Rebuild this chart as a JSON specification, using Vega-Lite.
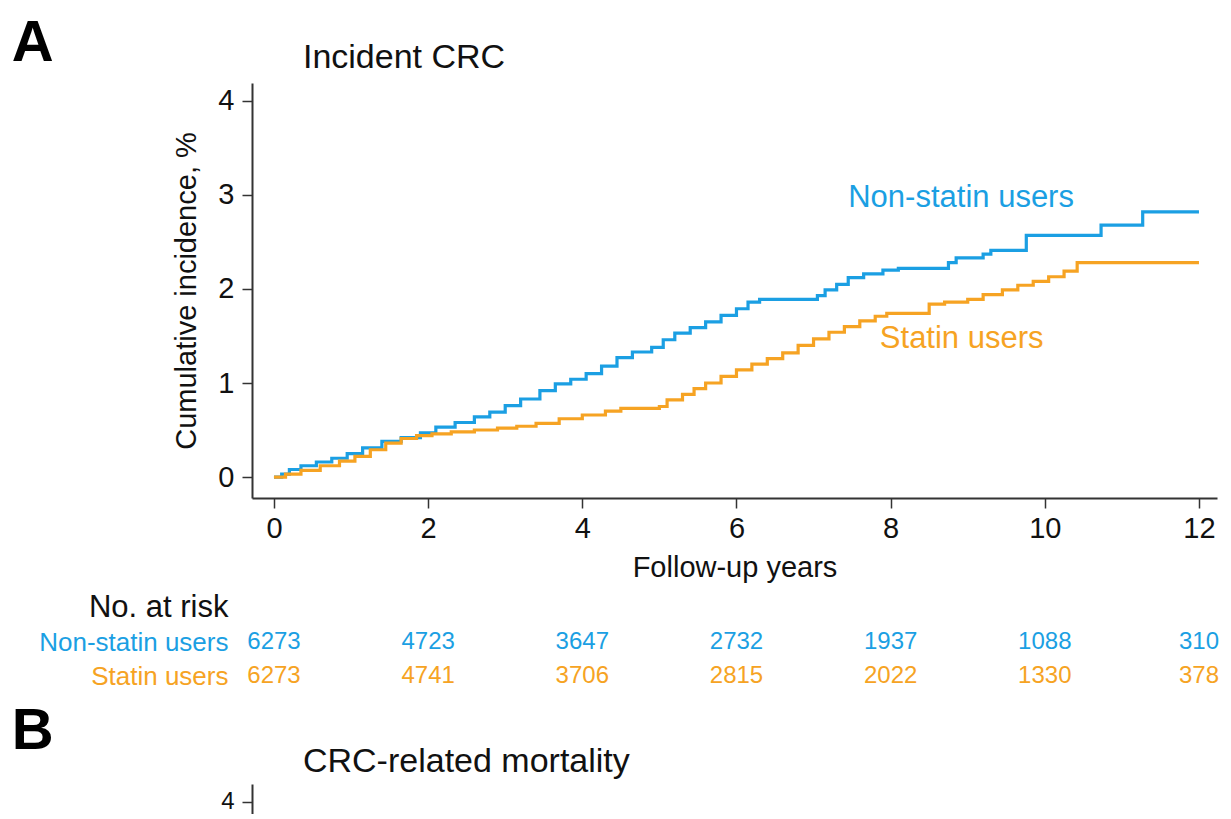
{
  "$schema": "https://vega.github.io/schema/vega-lite/v6.json",
  "background": "white",
  "padding": {"left": 11, "top": 14, "right": 0, "bottom": 0},
  "config": {
    "font": "Liberation Sans",
    "view": {"stroke": null},
    "axis": {"grid": false, "domainColor": "#333333", "domainWidth": 2, "tickColor": "#333333", "tickWidth": 1.5, "tickSize": 10, "labelColor": "#111111", "titleColor": "#111111", "labelFont": "Liberation Sans", "titleFont": "Liberation Sans", "titleFontWeight": "normal", "labelLimit": 400}
  },
  "resolve": {"scale": {"x": "independent", "y": "independent", "color": "independent"}},
  "spacing": 0,
  "datasets": {
    "km": [
      {"group": "Non-statin users", "year": 0, "cuminc": 0},
      {"group": "Non-statin users", "year": 0.1, "cuminc": 0.03},
      {"group": "Non-statin users", "year": 0.2, "cuminc": 0.08},
      {"group": "Non-statin users", "year": 0.35, "cuminc": 0.12},
      {"group": "Non-statin users", "year": 0.55, "cuminc": 0.16},
      {"group": "Non-statin users", "year": 0.75, "cuminc": 0.2},
      {"group": "Non-statin users", "year": 0.95, "cuminc": 0.25},
      {"group": "Non-statin users", "year": 1.15, "cuminc": 0.31},
      {"group": "Non-statin users", "year": 1.4, "cuminc": 0.38},
      {"group": "Non-statin users", "year": 1.65, "cuminc": 0.42},
      {"group": "Non-statin users", "year": 1.9, "cuminc": 0.47},
      {"group": "Non-statin users", "year": 2.1, "cuminc": 0.53},
      {"group": "Non-statin users", "year": 2.35, "cuminc": 0.58},
      {"group": "Non-statin users", "year": 2.6, "cuminc": 0.64},
      {"group": "Non-statin users", "year": 2.8, "cuminc": 0.69},
      {"group": "Non-statin users", "year": 3.0, "cuminc": 0.76},
      {"group": "Non-statin users", "year": 3.2, "cuminc": 0.83},
      {"group": "Non-statin users", "year": 3.45, "cuminc": 0.92},
      {"group": "Non-statin users", "year": 3.65, "cuminc": 0.99},
      {"group": "Non-statin users", "year": 3.85, "cuminc": 1.04},
      {"group": "Non-statin users", "year": 4.05, "cuminc": 1.1},
      {"group": "Non-statin users", "year": 4.25, "cuminc": 1.18},
      {"group": "Non-statin users", "year": 4.45, "cuminc": 1.27},
      {"group": "Non-statin users", "year": 4.65, "cuminc": 1.33},
      {"group": "Non-statin users", "year": 4.9, "cuminc": 1.38},
      {"group": "Non-statin users", "year": 5.05, "cuminc": 1.46},
      {"group": "Non-statin users", "year": 5.2, "cuminc": 1.53},
      {"group": "Non-statin users", "year": 5.4, "cuminc": 1.59},
      {"group": "Non-statin users", "year": 5.6, "cuminc": 1.65},
      {"group": "Non-statin users", "year": 5.8, "cuminc": 1.72},
      {"group": "Non-statin users", "year": 6.0, "cuminc": 1.79},
      {"group": "Non-statin users", "year": 6.15, "cuminc": 1.86},
      {"group": "Non-statin users", "year": 6.3, "cuminc": 1.89},
      {"group": "Non-statin users", "year": 7.05, "cuminc": 1.93},
      {"group": "Non-statin users", "year": 7.15, "cuminc": 1.99},
      {"group": "Non-statin users", "year": 7.3, "cuminc": 2.05},
      {"group": "Non-statin users", "year": 7.45, "cuminc": 2.12},
      {"group": "Non-statin users", "year": 7.65, "cuminc": 2.16},
      {"group": "Non-statin users", "year": 7.9, "cuminc": 2.2},
      {"group": "Non-statin users", "year": 8.1, "cuminc": 2.22},
      {"group": "Non-statin users", "year": 8.75, "cuminc": 2.28},
      {"group": "Non-statin users", "year": 8.85, "cuminc": 2.33},
      {"group": "Non-statin users", "year": 9.2, "cuminc": 2.37},
      {"group": "Non-statin users", "year": 9.3, "cuminc": 2.41},
      {"group": "Non-statin users", "year": 9.76, "cuminc": 2.57},
      {"group": "Non-statin users", "year": 10.73, "cuminc": 2.68},
      {"group": "Non-statin users", "year": 11.27, "cuminc": 2.82},
      {"group": "Non-statin users", "year": 12.0, "cuminc": 2.82},
      {"group": "Statin users", "year": 0, "cuminc": 0},
      {"group": "Statin users", "year": 0.15, "cuminc": 0.03},
      {"group": "Statin users", "year": 0.35, "cuminc": 0.07},
      {"group": "Statin users", "year": 0.6, "cuminc": 0.12},
      {"group": "Statin users", "year": 0.85, "cuminc": 0.17},
      {"group": "Statin users", "year": 1.05, "cuminc": 0.22},
      {"group": "Statin users", "year": 1.25, "cuminc": 0.29},
      {"group": "Statin users", "year": 1.45, "cuminc": 0.36},
      {"group": "Statin users", "year": 1.65, "cuminc": 0.41},
      {"group": "Statin users", "year": 1.85, "cuminc": 0.44},
      {"group": "Statin users", "year": 2.05, "cuminc": 0.46},
      {"group": "Statin users", "year": 2.3, "cuminc": 0.48},
      {"group": "Statin users", "year": 2.6, "cuminc": 0.5},
      {"group": "Statin users", "year": 2.9, "cuminc": 0.52},
      {"group": "Statin users", "year": 3.15, "cuminc": 0.54},
      {"group": "Statin users", "year": 3.4, "cuminc": 0.57},
      {"group": "Statin users", "year": 3.7, "cuminc": 0.62},
      {"group": "Statin users", "year": 4.0, "cuminc": 0.66},
      {"group": "Statin users", "year": 4.3, "cuminc": 0.7},
      {"group": "Statin users", "year": 4.5, "cuminc": 0.73},
      {"group": "Statin users", "year": 5.0, "cuminc": 0.75},
      {"group": "Statin users", "year": 5.1, "cuminc": 0.82},
      {"group": "Statin users", "year": 5.3, "cuminc": 0.88},
      {"group": "Statin users", "year": 5.45, "cuminc": 0.94},
      {"group": "Statin users", "year": 5.6, "cuminc": 1.0},
      {"group": "Statin users", "year": 5.8, "cuminc": 1.07},
      {"group": "Statin users", "year": 6.0, "cuminc": 1.14},
      {"group": "Statin users", "year": 6.2, "cuminc": 1.2},
      {"group": "Statin users", "year": 6.4, "cuminc": 1.26},
      {"group": "Statin users", "year": 6.6, "cuminc": 1.32},
      {"group": "Statin users", "year": 6.8, "cuminc": 1.4},
      {"group": "Statin users", "year": 7.0, "cuminc": 1.47},
      {"group": "Statin users", "year": 7.2, "cuminc": 1.54},
      {"group": "Statin users", "year": 7.4, "cuminc": 1.6},
      {"group": "Statin users", "year": 7.6, "cuminc": 1.66},
      {"group": "Statin users", "year": 7.8, "cuminc": 1.71},
      {"group": "Statin users", "year": 7.95, "cuminc": 1.74},
      {"group": "Statin users", "year": 8.5, "cuminc": 1.84},
      {"group": "Statin users", "year": 8.7, "cuminc": 1.86},
      {"group": "Statin users", "year": 9.0, "cuminc": 1.89},
      {"group": "Statin users", "year": 9.2, "cuminc": 1.94},
      {"group": "Statin users", "year": 9.45, "cuminc": 1.99},
      {"group": "Statin users", "year": 9.65, "cuminc": 2.04},
      {"group": "Statin users", "year": 9.85, "cuminc": 2.08},
      {"group": "Statin users", "year": 10.05, "cuminc": 2.13},
      {"group": "Statin users", "year": 10.25, "cuminc": 2.19},
      {"group": "Statin users", "year": 10.42, "cuminc": 2.28},
      {"group": "Statin users", "year": 12.0, "cuminc": 2.28}
    ],
    "atrisk": [
      {"group": "Non-statin users", "year": 0, "n": "6273"},
      {"group": "Non-statin users", "year": 2, "n": "4723"},
      {"group": "Non-statin users", "year": 4, "n": "3647"},
      {"group": "Non-statin users", "year": 6, "n": "2732"},
      {"group": "Non-statin users", "year": 8, "n": "1937"},
      {"group": "Non-statin users", "year": 10, "n": "1088"},
      {"group": "Non-statin users", "year": 12, "n": "310"},
      {"group": "Statin users", "year": 0, "n": "6273"},
      {"group": "Statin users", "year": 2, "n": "4741"},
      {"group": "Statin users", "year": 4, "n": "3706"},
      {"group": "Statin users", "year": 6, "n": "2815"},
      {"group": "Statin users", "year": 8, "n": "2022"},
      {"group": "Statin users", "year": 10, "n": "1330"},
      {"group": "Statin users", "year": 12, "n": "378"}
    ],
    "one": [{}]
  },
  "vconcat": [
    {
      "width": 965,
      "height": 415,
      "layer": [
        {
          "data": {"name": "km"},
          "mark": {"type": "line", "interpolate": "step-after", "strokeWidth": 3.2},
          "encoding": {
            "x": {"field": "year", "type": "quantitative", "scale": {"domain": [-0.285, 12.234], "nice": false, "zero": false}, "axis": {"values": [0, 2, 4, 6, 8, 10, 12], "format": "d", "title": "Follow-up years", "labelFontSize": 29, "titleFontSize": 29, "labelPadding": 6, "titlePadding": 10}},
            "y": {"field": "cuminc", "type": "quantitative", "scale": {"domain": [-0.223, 4.191], "nice": false, "zero": false}, "axis": {"values": [0, 1, 2, 3, 4], "format": "d", "title": "Cumulative incidence, %", "labelFontSize": 29, "titleFontSize": 29, "labelPadding": 8, "titlePadding": 16}},
            "color": {"field": "group", "type": "nominal", "scale": {"domain": ["Non-statin users", "Statin users"], "range": ["#1b9fe3", "#f6a323"]}, "legend": null}
          }
        },
        {
          "data": {"name": "one"},
          "mark": {"type": "text", "align": "left", "baseline": "middle", "fontSize": 31, "color": "#1b9fe3"},
          "encoding": {"x": {"datum": 7.45, "type": "quantitative"}, "y": {"datum": 2.97, "type": "quantitative"}, "text": {"value": "Non-statin users"}}
        },
        {
          "data": {"name": "one"},
          "mark": {"type": "text", "align": "left", "baseline": "middle", "fontSize": 31, "color": "#f6a323"},
          "encoding": {"x": {"datum": 7.86, "type": "quantitative"}, "y": {"datum": 1.47, "type": "quantitative"}, "text": {"value": "Statin users"}}
        },
        {
          "data": {"name": "one"},
          "mark": {"type": "text", "align": "left", "baseline": "middle", "fontSize": 34, "color": "#111111"},
          "encoding": {"x": {"datum": 0.376, "type": "quantitative"}, "y": {"datum": 4.457, "type": "quantitative"}, "text": {"value": "Incident CRC"}}
        },
        {
          "data": {"name": "one"},
          "mark": {"type": "text", "align": "center", "baseline": "middle", "fontSize": 58, "fontWeight": "bold", "color": "#000000"},
          "encoding": {"x": {"datum": -3.13, "type": "quantitative"}, "y": {"datum": 4.606, "type": "quantitative"}, "text": {"value": "A"}}
        }
      ]
    },
    {
      "width": 965,
      "height": 120,
      "data": {"name": "atrisk"},
      "mark": {"type": "text", "fontSize": 24, "baseline": "middle", "align": "center"},
      "encoding": {
        "x": {"field": "year", "type": "quantitative", "scale": {"domain": [-0.285, 12.234], "nice": false, "zero": false}, "axis": null},
        "y": {"field": "group", "type": "nominal", "scale": {"type": "point", "domain": ["No. at risk", "Non-statin users", "Statin users"], "padding": 0.76}, "axis": {"title": null, "domain": false, "ticks": false, "labelPadding": 24, "labelFontSize": {"expr": "datum.value === 'No. at risk' ? 31 : 26"}, "labelColor": {"expr": "datum.value === 'No. at risk' ? '#111111' : (datum.value === 'Statin users' ? '#f6a323' : '#1b9fe3')"}}},
        "color": {"field": "group", "type": "nominal", "scale": {"domain": ["Non-statin users", "Statin users"], "range": ["#1b9fe3", "#f6a323"]}, "legend": null},
        "text": {"field": "n", "type": "nominal"}
      }
    },
    {
      "width": 965,
      "height": 30,
      "layer": [
        {
          "data": {"name": "one"},
          "mark": {"type": "text", "align": "center", "baseline": "middle", "fontSize": 58, "fontWeight": "bold", "color": "#000000"},
          "encoding": {
            "x": {"datum": -3.13, "type": "quantitative", "scale": {"domain": [-0.285, 12.234], "nice": false, "zero": false}, "axis": null},
            "y": {"datum": 4.745, "type": "quantitative", "scale": {"domain": [3.872, 4.191], "nice": false, "zero": false}, "axis": {"values": [4], "format": "d", "title": null, "labelFontSize": 24, "labelPadding": 8}},
            "text": {"value": "B"}
          }
        },
        {
          "data": {"name": "one"},
          "mark": {"type": "text", "align": "left", "baseline": "middle", "fontSize": 34, "color": "#111111"},
          "encoding": {"x": {"datum": 0.376, "type": "quantitative"}, "y": {"datum": 4.426, "type": "quantitative"}, "text": {"value": "CRC-related mortality"}}
        }
      ]
    }
  ]
}
